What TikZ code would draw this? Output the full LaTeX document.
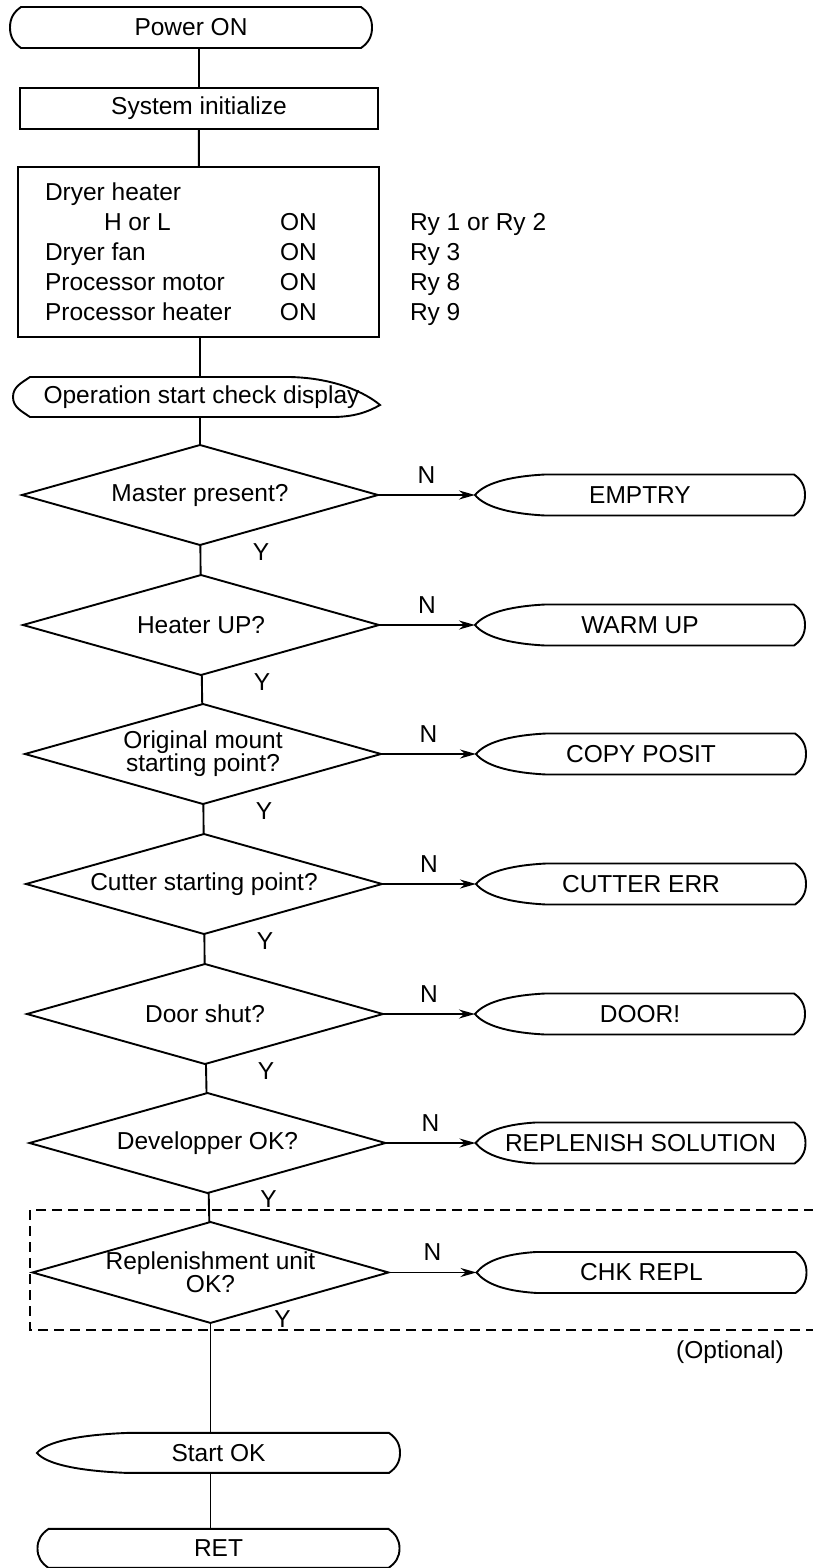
\documentclass[tikz,border=0pt]{standalone}
\usepackage{fontspec}
\setmainfont{Liberation Sans}
\usetikzlibrary{arrows.meta,shapes.geometric,positioning}

% outline of a terminal: both ends bent like brackets
\newcommand{\termshape}[1]{%
  \draw ([xshift=11pt]#1.north west) -- ([xshift=-11pt]#1.north east)
    to[out=-35,in=90] (#1.east) to[out=-90,in=35] ([xshift=-11pt]#1.south east)
    -- ([xshift=11pt]#1.south west) to[out=145,in=-90] (#1.west)
    to[out=90,in=-145] ([xshift=11pt]#1.north west) -- cycle;}
% outline of a display: pointed on the left, bent on the right
\newcommand{\dispshape}[2]{%
  \draw (#1.west) .. controls +(9,11) and +({-0.55*#2},-2) .. ([xshift=#2pt]#1.north west)
    -- ([xshift=-11pt]#1.north east)
    to[out=-35,in=90] (#1.east) to[out=-90,in=35] ([xshift=-11pt]#1.south east)
    -- ([xshift=#2pt]#1.south west) .. controls +({-0.55*#2},2) and +(9,-11) .. (#1.west) -- cycle;}
% the same, turned round
\newcommand{\dispshapeR}[1]{%
  \draw ([xshift=17pt]#1.north west) -- ([xshift=-90pt]#1.north east)
    .. controls +(45,-1) and +(-14,12) .. ([yshift=-8pt]#1.east)
    .. controls +(-12,-7) and +(22,0) .. ([xshift=-48pt]#1.south east)
    -- ([xshift=17pt]#1.south west) to[out=145,in=-90] (#1.west)
    to[out=90,in=-145] ([xshift=17pt]#1.north west) -- cycle;}

\begin{document}
\begin{tikzpicture}[x=1pt, y=1pt, line width=1.9pt,
    every node/.style={font=\fontsize{24.5}{30}\selectfont, outer sep=0pt},
    term/.style={rectangle, minimum width=362pt, minimum height=41pt, inner sep=0pt},
    proc/.style={rectangle, draw, minimum height=41pt, inner sep=0pt},
    decision/.style={diamond, draw, aspect=3.5, minimum width=356pt, minimum height=100pt,
      inner sep=0pt, align=center, font=\fontsize{24.5}{23}\selectfont},
    disp/.style={rectangle, minimum width=330pt, minimum height=41pt, inner sep=0pt},
    lbl/.style={inner sep=0pt},
    flow/.style={-{Stealth[length=16pt,width=9pt]}},
    optbox/.style={dash pattern=on 10pt off 6pt}]
    \useasboundingbox (0,0) rectangle (812,-1568);

    \node (power) [term] at (191,-27.5) {Power ON};
    \node (init) [proc, minimum width=358pt, below=40pt of power, xshift=8pt] {System initialize};
    \node (relay) [proc, minimum width=361pt, minimum height=170pt, below=38pt of init, xshift=-0.5pt] {};
    \node (relaytxt) [lbl, anchor=north west] at ([shift={(27pt,-12.5pt)}]relay.north west) {%
        \begin{tabular}{@{}p{235pt}@{}p{130pt}@{}l@{}}
            Dryer heater & & \\
            \hspace*{59pt}H or L & ON & Ry 1 or Ry 2 \\
            Dryer fan & ON & Ry 3 \\
            Processor motor & ON & Ry 8 \\
            Processor heater & ON & Ry 9
        \end{tabular}};
    \node (check) [term, minimum width=367pt, minimum height=40pt, below=40pt of relay, xshift=-2pt] {\hspace*{10pt}Operation start check display};

    \node (d1) [decision, below=28pt of check, xshift=3.5pt] {Master present?};
    \node (d2) [decision, below=30pt of d1, xshift=1pt] {Heater UP?};
    \node (d3) [decision, below=29pt of d2, xshift=2pt] {Original mount\\starting point?};
    \node (d4) [decision, below=30pt of d3, xshift=1pt] {Cutter starting point?};
    \node (d5) [decision, below=30pt of d4, xshift=1pt] {Door shut?};
    \node (d6) [decision, below=29pt of d5, xshift=2.5pt] {Developper OK?};
    \node (d7) [decision, below=29pt of d6, xshift=3pt] {Replenishment unit\\OK?};

    \node (e1) [disp, right=97pt of d1] {EMPTRY};
    \node (e2) [disp, right=96pt of d2] {WARM UP};
    \node (e3) [disp, right=95pt of d3] {COPY POSIT};
    \node (e4) [disp, right=94pt of d4] {CUTTER ERR};
    \node (e5) [disp, right=92pt of d5] {DOOR!};
    \node (e6) [disp, right=90pt of d6] {REPLENISH SOLUTION};
    \node (e7) [disp, right=88pt of d7] {CHK REPL};

    \node (ok) [term, minimum width=363pt, minimum height=40pt, below=110pt of d7, xshift=8pt] {Start OK};
    \node (ret) [term, minimum height=39pt, below=56pt of ok] {RET};

    % outlines
    \termshape{power}
    \dispshapeR{check}
    \dispshape{e1}{70} \dispshape{e2}{70} \dispshape{e3}{70} \dispshape{e4}{70}
    \dispshape{e5}{70} \dispshape{e6}{60} \dispshape{e7}{60}
    \dispshape{ok}{90}
    \termshape{ret}

    % main line
    \draw (power.south -| init.north) -- (init);
    \draw (init) -- (relay);
    \draw (relay.south -| d1.north) -- (check.north -| d1.north);
    \draw (check.south -| d1.north) -- (d1);
    \draw (d1) -- (d2);
    \draw (d2) -- (d3);
    \draw (d3) -- (d4);
    \draw (d4) -- (d5);
    \draw (d5) -- (d6);
    \draw (d6) -- (d7);
    \draw (d7) -- (d7.south |- ok.north);
    \draw (ok.south -| d7.south) -- (ret.north -| d7.south);

    % N branches
    \draw [flow] (d1) -- node[lbl, above=12pt] (n1) {N} (e1);
    \draw [flow] (d2) -- node[lbl, above=12pt] (n2) {N} (e2);
    \draw [flow] (d3) -- node[lbl, above=12pt] (n3) {N} (e3);
    \draw [flow] (d4) -- node[lbl, above=12pt] (n4) {N} (e4);
    \draw [flow] (d5) -- node[lbl, above=12pt] (n5) {N} (e5);
    \draw [flow] (d6) -- node[lbl, above=12pt] (n6) {N} (e6);
    \draw [flow] (d7) -- node[lbl, above=12pt] (n7) {N} (e7);

    % Y labels
    \node (y1) [lbl] at ([shift={(61pt,-7pt)}]d1.south) {Y};
    \node (y2) [lbl] at ([shift={(61pt,-7pt)}]d2.south) {Y};
    \node (y3) [lbl] at ([shift={(61pt,-7pt)}]d3.south) {Y};
    \node (y4) [lbl] at ([shift={(61pt,-7pt)}]d4.south) {Y};
    \node (y5) [lbl] at ([shift={(61pt,-7pt)}]d5.south) {Y};
    \node (y6) [lbl] at ([shift={(61pt,-6pt)}]d6.south) {Y};
    \node (y7) [lbl] at ([shift={(72pt,4pt)}]d7.south) {Y};

    % optional part
    \draw [optbox] (830,-1210) -- (30,-1210) -- (30,-1330) -- (830,-1330);
    \node (opt) [lbl] at (730,-1352) {(Optional)};
\end{tikzpicture}
\end{document}
